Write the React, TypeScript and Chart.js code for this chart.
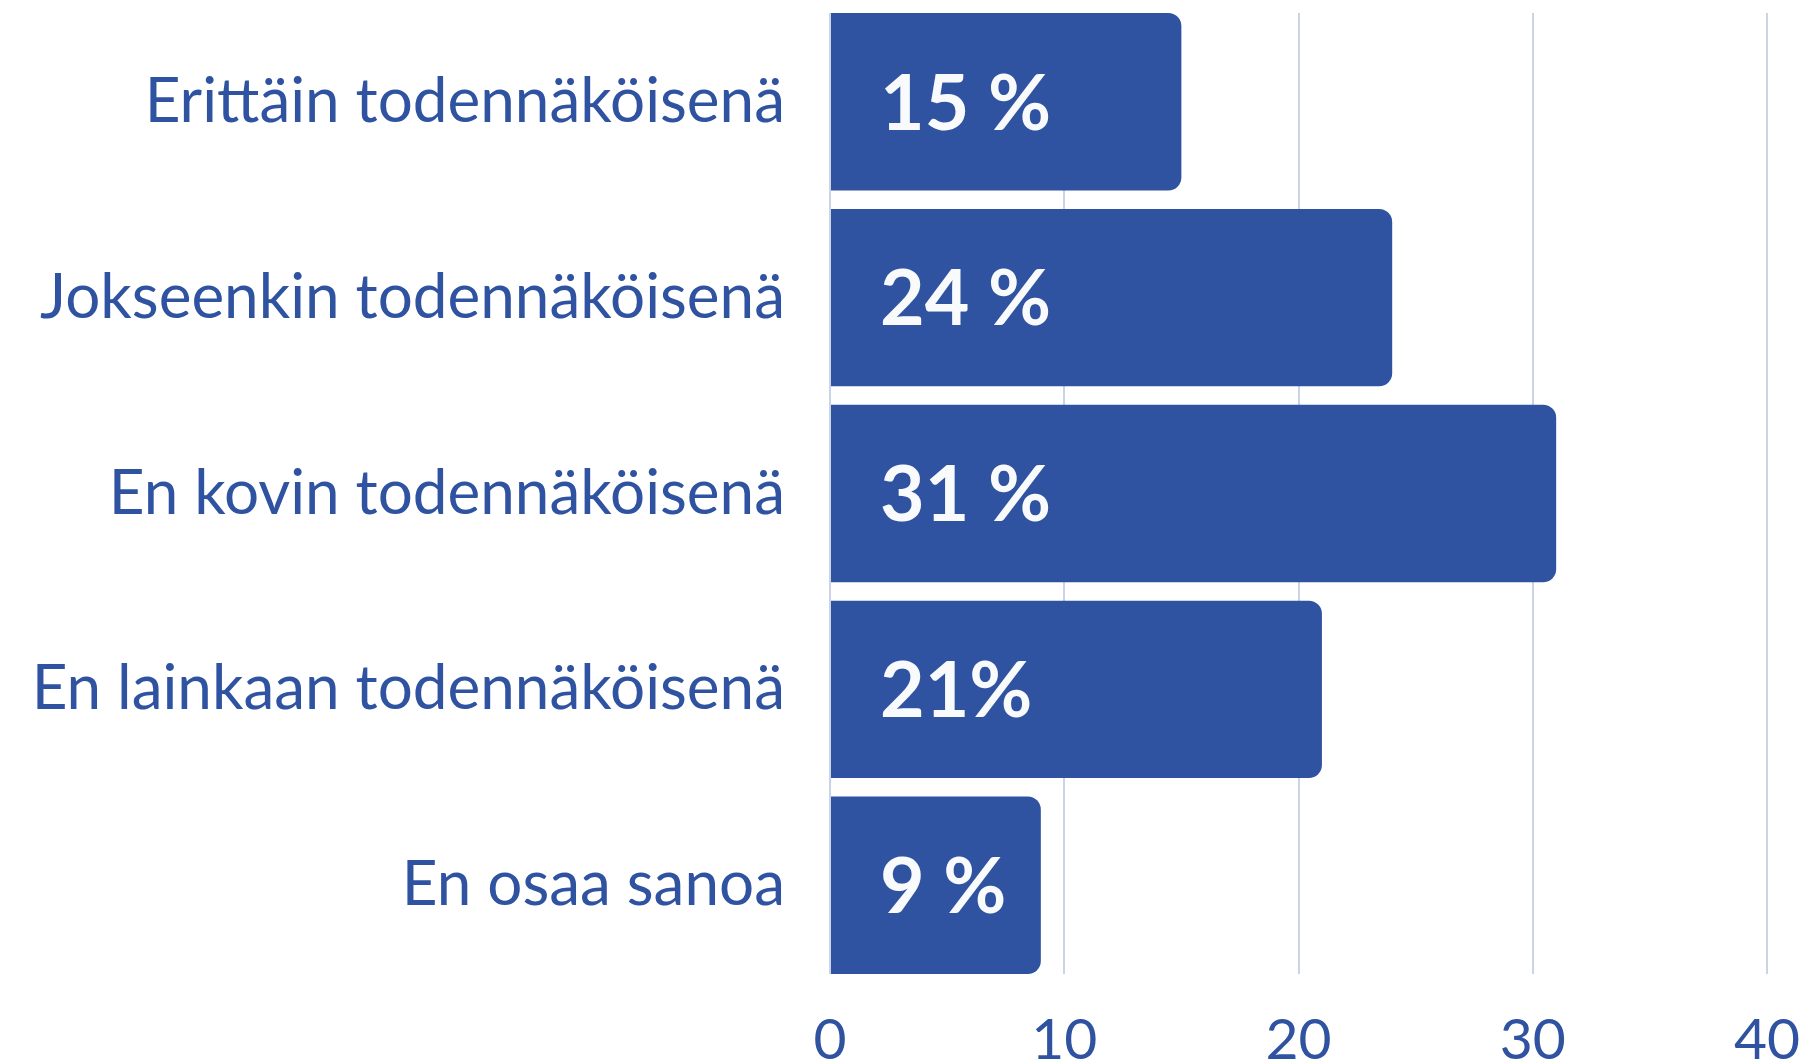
import React, { useEffect, useRef } from "react";
import { Chart, registerables } from "chart.js";

Chart.register(...registerables);

const categories = [
  "Erittäin todennäköisenä",
  "Jokseenkin todennäköisenä",
  "En kovin todennäköisenä",
  "En lainkaan todennäköisenä",
  "En osaa sanoa",
];
const values = [15, 24, 31, 21, 9];
const valueLabels = ["15 %", "24 %", "31 %", "21%", "9 %"];
const xTicks = [0, 10, 20, 30, 40];

const BLUE = "#2f53a0";
const FONT = "Lato, 'Noto Sans', sans-serif";
const BAR_FRAC = 0.906;

const labelPlugin = {
  id: "barLabels",
  afterDatasetsDraw(chart: any) {
    const ctx = chart.ctx;
    const meta = chart.getDatasetMeta(0);
    const xScale = chart.scales.x;
    ctx.save();
    ctx.fillStyle = "#f8fafc";
    ctx.font = `bold 77px ${FONT}`;
    ctx.textAlign = "left";
    ctx.textBaseline = "middle";
    meta.data.forEach((bar: any, i: number) => {
      const x0 = xScale.getPixelForValue(0);
      ctx.fillText(valueLabels[i], x0 + 50, bar.y + 3);
    });
    ctx.restore();
  },
};

const zeroPad = (axis: any) => {
  axis.paddingTop = 0;
  axis.paddingBottom = 0;
  axis.paddingLeft = 0;
  axis.paddingRight = 0;
};

export default function App() {
  const ref = useRef<HTMLCanvasElement>(null);
  useEffect(() => {
    if (!ref.current) return;
    const chart = new Chart(ref.current, {
      type: "bar",
      data: {
        datasets: [
          {
            data: values.map((v, i) => ({ x: v, y: i })),
            backgroundColor: BLUE,
            borderRadius: 13,
            borderSkipped: "start",
            barPercentage: BAR_FRAC,
            categoryPercentage: 1,
          },
        ],
      },
      options: {
        indexAxis: "y",
        animation: false,
        responsive: true,
        maintainAspectRatio: false,
        layout: { padding: { top: 13, right: 42, left: 0, bottom: 0 } },
        plugins: { legend: { display: false }, tooltip: { enabled: false } },
        scales: {
          x: {
            type: "linear",
            min: 0,
            max: 40,
            afterBuildTicks: (axis: any) => {
              axis.ticks = xTicks.map((v) => ({ value: v }));
            },
            afterFit: (axis: any) => {
              axis.height = 87;
              zeroPad(axis);
            },
            grid: { color: "#c9d4e7", lineWidth: 2, drawTicks: false },
            border: { display: false },
            ticks: {
              color: BLUE,
              font: { family: FONT, size: 57 },
              padding: 32,
            },
          },
          y: {
            type: "linear",
            reverse: true,
            offset: false,
            min: -BAR_FRAC / 2,
            max: categories.length - 1 + BAR_FRAC / 2,
            afterBuildTicks: (axis: any) => {
              axis.ticks = categories.map((_, i) => ({ value: i }));
            },
            afterFit: (axis: any) => {
              axis.width = 830;
              zeroPad(axis);
            },
            grid: { display: false, drawTicks: false, offset: false },
            border: { display: false },
            ticks: {
              color: BLUE,
              font: { family: FONT, size: 62 },
              padding: 45,
              callback: (v: any) => categories[v as number] ?? "",
            },
          },
        },
      },
      plugins: [labelPlugin],
    });
    return () => chart.destroy();
  }, []);
  return (
    <div style={{ position: "fixed", left: 0, top: 0, width: 1809, height: 1061, background: "#fff" }}>
      <canvas ref={ref} />
    </div>
  );
}
